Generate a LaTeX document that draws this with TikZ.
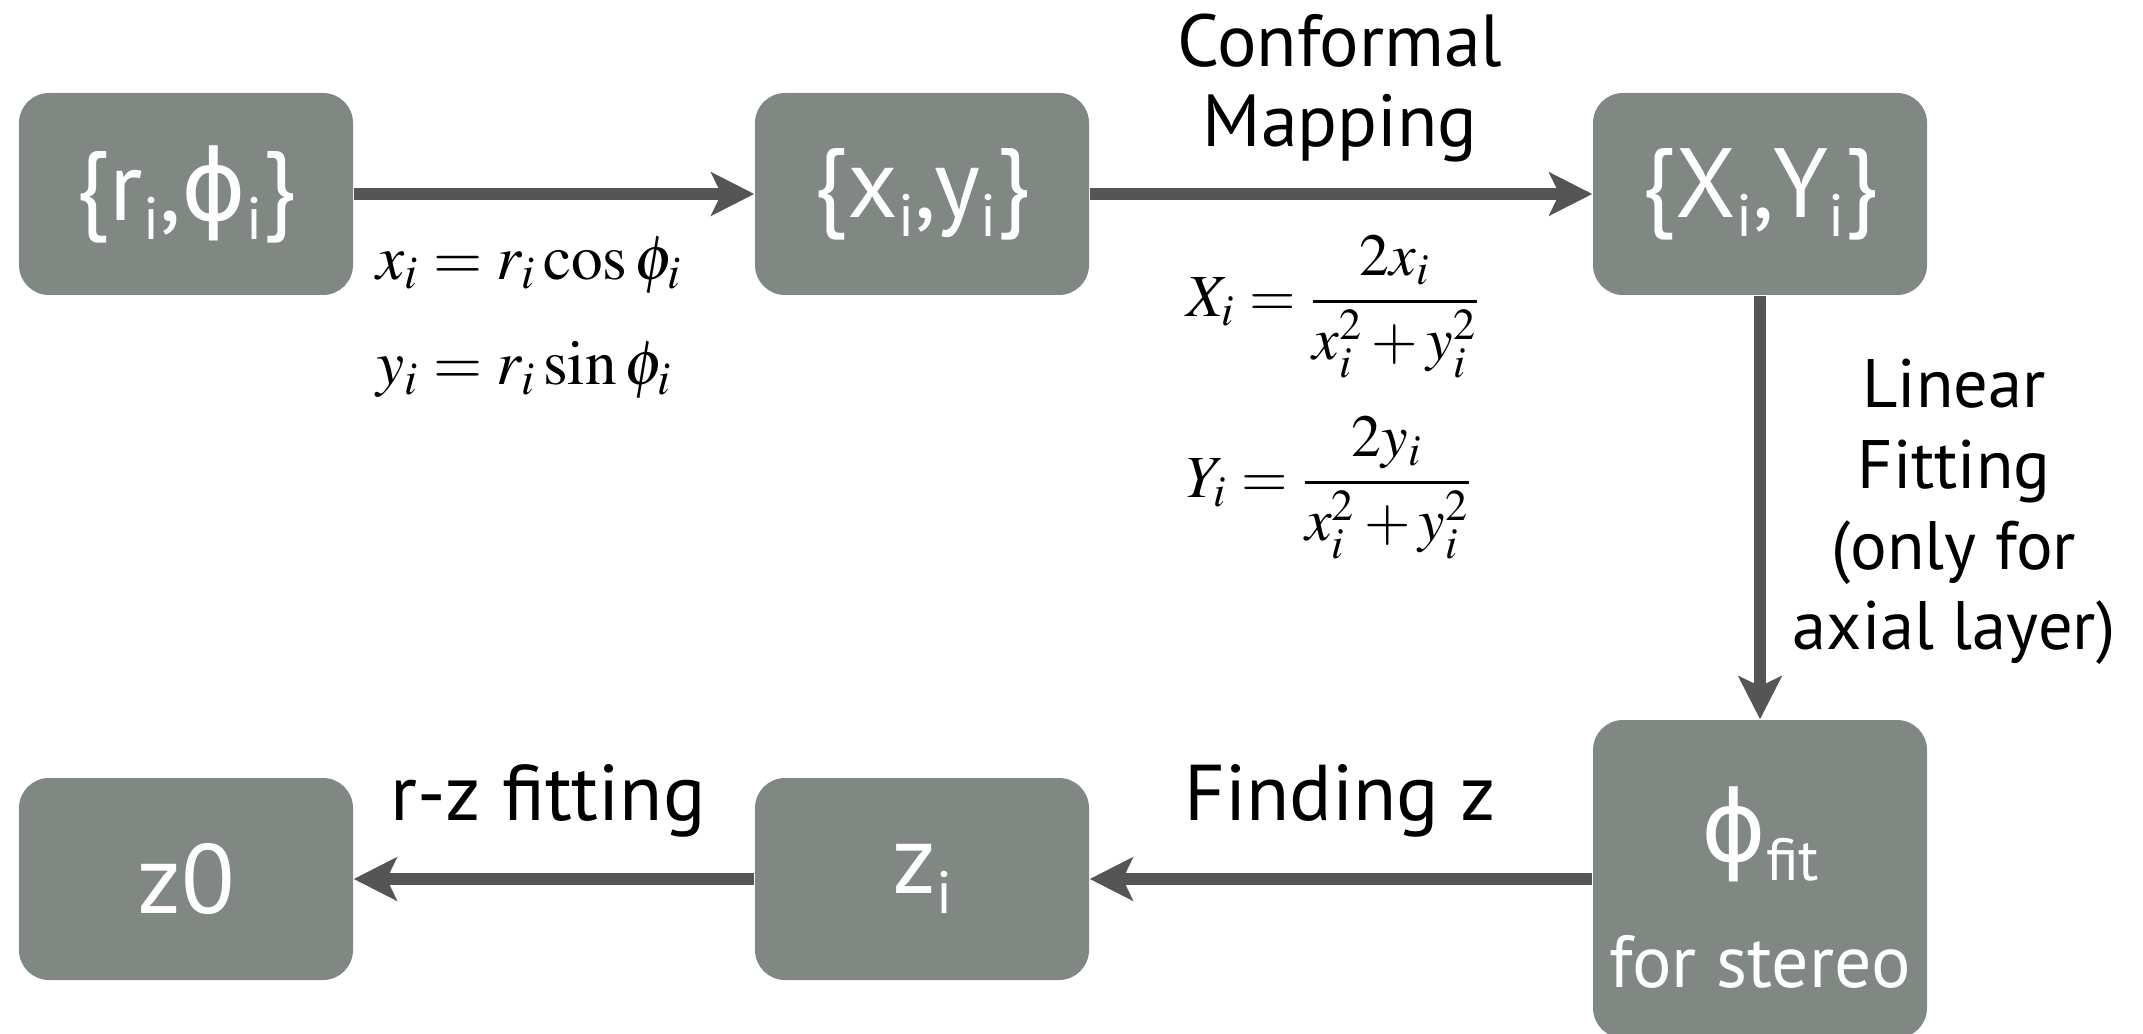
\documentclass[tikz,border=0pt]{standalone}
\usepackage{mathptmx}
\usepackage[no-math]{fontspec}
\setmainfont{PT Sans}
\newfontfamily\symfont{DejaVu Sans}
\usepackage{amsmath}
\usepackage{tikz}
\usetikzlibrary{arrows.meta, positioning}
\definecolor{boxgray}{HTML}{818783}
\definecolor{arrowgray}{HTML}{555555}
\tikzstyle{block} = [rectangle, 
rounded corners=0.3cm, 
fill=boxgray, text=white, 
minimum width=3.34cm, 
minimum height=2.02cm, 
font=\fontsize{28}{32}\selectfont]
\tikzstyle{arrow} = [line width=3.2pt, draw=arrowgray, -{Stealth[length=0.43cm, width=0.43cm, inset=0.1cm]}]
\newcommand{\dn}[1]{\raisebox{-0.4ex}{\fontsize{17}{17}\selectfont #1}}
\newcommand{\phisym}{{\symfont ϕ}}

\begin{document}
\begin{tikzpicture}[
        % Estilo para las etiquetas de los pasos
        steplabel/.style={font=\fontsize{19.5}{23}\selectfont, align=center, inner sep=0pt},
        formula/.style={font=\fontsize{17}{30}\selectfont, inner sep=0pt},
    ]
        \useasboundingbox (0,0) rectangle (21.43,10.33);

        % 1. Fila superior: coordenadas de entrada
        \node (ri) [block] at (1.86,8.39) {\{r\dn{i},\phisym\dn{i}\}};
        \node (xy) [block] at (9.22,8.39) {\{x\dn{i},y\dn{i}\}};
        \node (XY) [block] at (17.60,8.39) {\{X\dn{i},Y\dn{i}\}};

        % 2. Fila inferior: ajuste
        \node (phifit) [block, minimum height=3.18cm] at (17.60,1.54) {};
        \node (phifitlbl) [text=white, font=\fontsize{28}{32}\selectfont] at (17.60,1.99) {\phisym\dn{fit}};
        \node (stereo) [text=white, font=\fontsize{21}{24}\selectfont, anchor=base] at (17.60,0.46) {for stereo};
        \node (zi) [block] at (9.22,1.54) {z\dn{i}};
        \node (zo) [block] at (1.86,1.54) {z0};

        % 3. Flechas
        \draw[arrow] (ri) -- (xy);
        \draw[arrow] (xy) -- (XY);
        \draw[arrow] (XY) -- (phifit);
        \draw[arrow] (phifit) -- (zi);
        \draw[arrow] (zi) -- (zo);

        % 4. Etiquetas
        \node (conf) [steplabel, font=\fontsize{21}{23}\selectfont] at (13.40,9.45) {Conformal\\Mapping};
        \node (linfit) [steplabel] at (19.54,5.21) {Linear\\Fitting\\(only for\\axial layer)};
        \node (findz) [steplabel, font=\fontsize{22.5}{26}\selectfont, anchor=base] at (13.40,2.13) {Finding z};
        \node (rzfit) [steplabel, font=\fontsize{22.5}{26}\selectfont, anchor=base] at (5.48,2.13) {r-z fitting};

        % 5. Ecuaciones
        \node (eqpolar) [formula, font=\fontsize{18}{30}\selectfont, align=left, anchor=west] at (3.76,7.15) {$x_i = r_i\cos\phi_i$\\$y_i = r_i\sin\phi_i$};
        \node (eqX) [formula, anchor=west] at (11.86,7.26) {$\displaystyle X_i = \frac{2x_i}{x_i^2+y_i^2}$};
        \node (eqY) [formula, anchor=west] at (11.86,5.45) {$\displaystyle Y_i = \frac{2y_i}{x_i^2+y_i^2}$};

    \end{tikzpicture}
\end{document}
